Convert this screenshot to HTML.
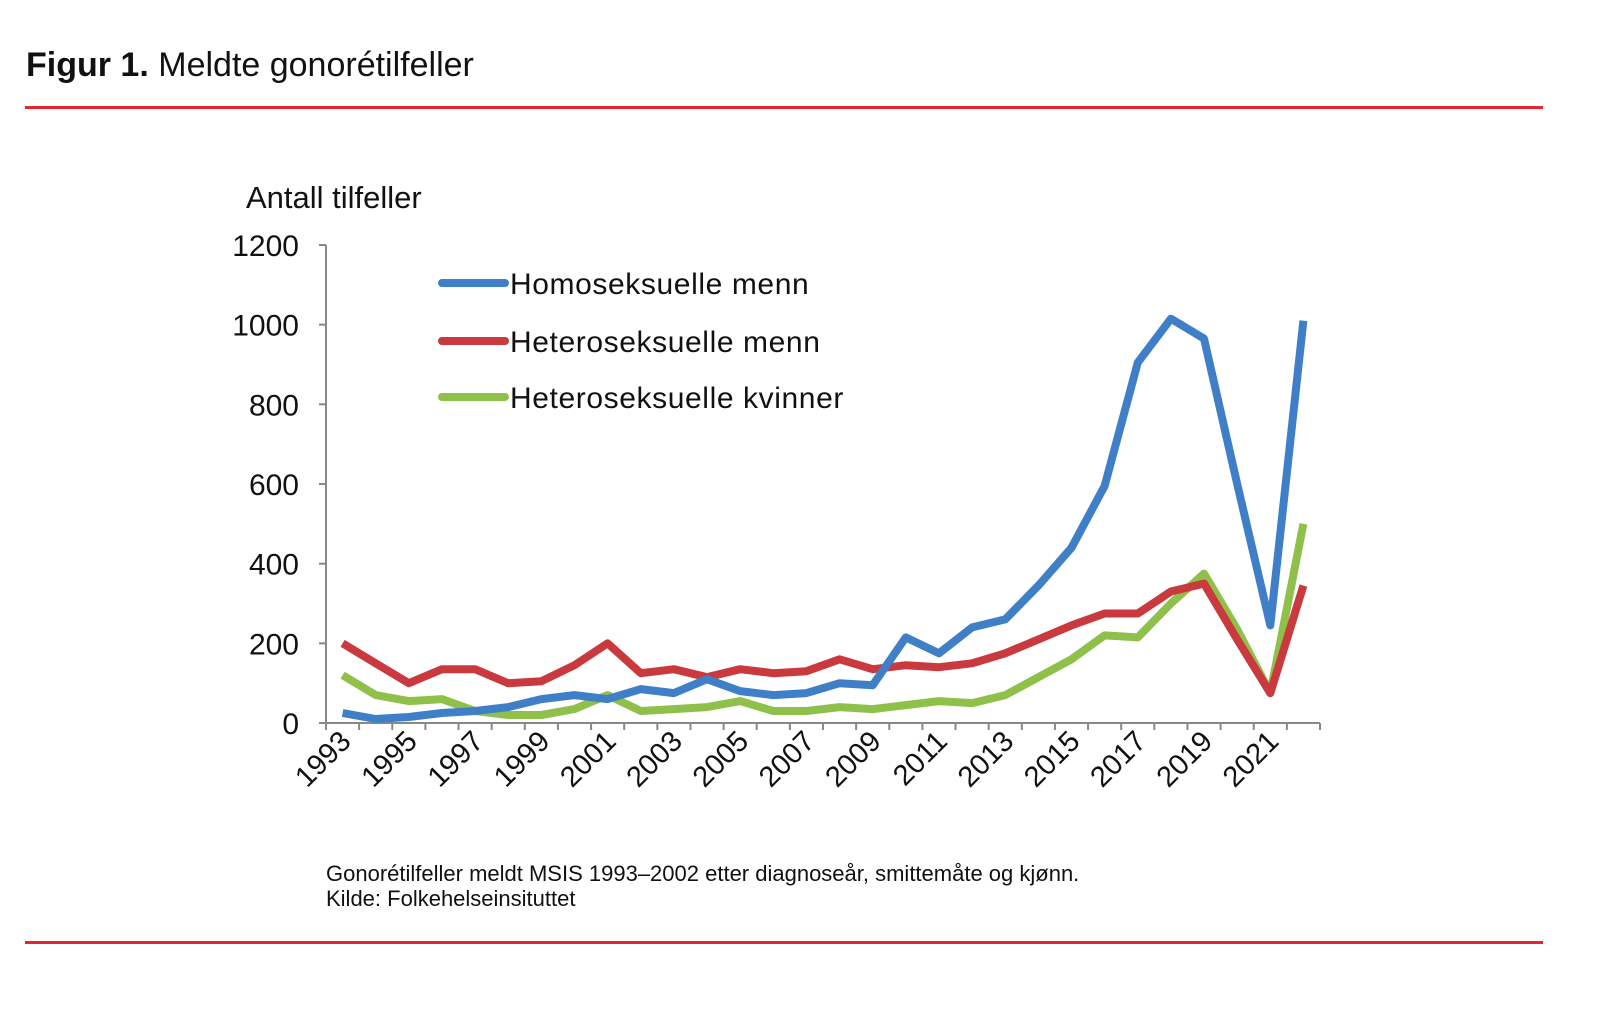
<!DOCTYPE html>
<html><head><meta charset="utf-8"><style>
body{margin:0;background:#fff;width:1600px;height:1008px;overflow:hidden;font-family:"Liberation Sans",sans-serif}
</style></head><body>
<svg width="1600" height="1008">
<text x="26" y="76" font-size="34" fill="#111"><tspan font-weight="bold">Figur 1.</tspan> Meldte gonorétilfeller</text>
<rect x="25" y="106" width="1518" height="3" fill="#e3262d"/>
<rect x="25" y="941" width="1518" height="3" fill="#e3262d"/>
<text x="246" y="208" font-size="31" fill="#111">Antall tilfeller</text>
<g id="chart"></g>
<text x="326" y="881" font-size="22" fill="#111">Gonorétilfeller meldt MSIS 1993–2002 etter diagnoseår, smittemåte og kjønn.</text>
<text x="326" y="906" font-size="22" fill="#111">Kilde: Folkehelseinsituttet</text>
</svg>
<script>
const years=[1993,1994,1995,1996,1997,1998,1999,2000,2001,2002,2003,2004,2005,2006,2007,2008,2009,2010,2011,2012,2013,2014,2015,2016,2017,2018,2019,2020,2021,2022];
const homoMen=[25,10,15,25,30,40,60,70,60,85,75,110,80,70,75,100,95,215,175,240,260,345,440,595,905,1015,965,600,245,1010];
const heteroMen=[200,150,100,135,135,100,105,145,200,125,135,115,135,125,130,160,135,145,140,150,175,210,245,275,275,330,350,210,75,345];
const heteroWomen=[120,70,55,60,30,20,20,35,70,30,35,40,55,30,30,40,35,45,55,50,70,115,160,220,215,300,375,235,75,500];
const yTicks=[0,200,400,600,800,1000,1200];
const seriesNames=["Homoseksuelle menn","Heteroseksuelle menn","Heteroseksuelle kvinner"];
const NS="http://www.w3.org/2000/svg";
const g=document.getElementById('chart');
const x0=326,x1=1320,y0=723,y1=245;
const step=(x1-x0)/years.length;
const X=i=>x0+step*(i+0.5);
const Y=v=>y0-(v/1200)*(y0-y1);
function mk(t,a){const e=document.createElementNS(NS,t);for(const k in a)e.setAttribute(k,a[k]);g.appendChild(e);return e;}
let e=mk('line',{x1:x0,y1:y1,x2:x0,y2:y0+1,stroke:'#888','stroke-width':2});


e=mk('line',{x1:x0,y1:y0,x2:x1,y2:y0,stroke:'#888','stroke-width':2});


yTicks.forEach(v=>{
 let t=mk('line',{x1:x0-7,y1:Y(v),x2:x0,y2:Y(v),stroke:'#888','stroke-width':2});
 
 
 let l=mk('text',{x:299,y:Y(v)+11,'font-size':30,'text-anchor':'end',fill:'#111'});
 l.textContent=v;
 
 
});
for(let i=0;i<=years.length;i++){
 let t=mk('line',{x1:x0+step*i,y1:y0,x2:x0+step*i,y2:y0+7,stroke:'#888','stroke-width':2});
 
 
}
years.forEach((yr,i)=>{
 if(i%2)return;
 const cx=X(i)+10,cy=y0+20;
 let l=mk('text',{x:cx,y:cy,'font-size':29,'text-anchor':'end',fill:'#111',transform:`rotate(-45 ${cx} ${cy})`});
 l.textContent=yr;
 
 
});
const sets=[[homoMen,'#3f7fc7'],[heteroMen,'#c9393d'],[heteroWomen,'#8fc04a']];
sets.slice().reverse().forEach(([d,c],k)=>{
 const p=d.map((v,i)=>X(i).toFixed(1)+','+Y(v).toFixed(1)).join(' ');
 let l=mk('polyline',{points:p,fill:'none',stroke:c,'stroke-width':8,'stroke-linejoin':'round'});
 
 
});
const ly=[283,341,397];
sets.forEach(([d,c],k)=>{
 let l=mk('line',{x1:442,y1:ly[k],x2:505,y2:ly[k],stroke:c,'stroke-width':8,'stroke-linecap':'round'});
 
 
 let t=mk('text',{x:510,y:ly[k]+11,'font-size':30,'letter-spacing':'0.6',fill:'#111'});
 t.textContent=seriesNames[k];
 
 
});
</script>
</body></html>
